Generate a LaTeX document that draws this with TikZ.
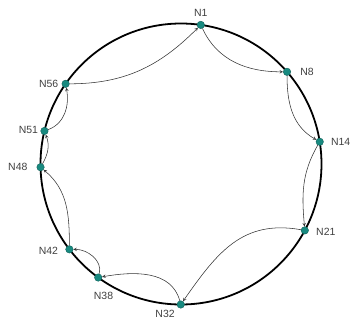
\documentclass[tikz,border=0pt]{standalone}
\usepackage{fontspec}
\setsansfont{Liberation Sans}
\definecolor{ringteal}{RGB}{24,138,128}

\begin{document}
\begin{tikzpicture}[>=stealth,x=1bp,y=1bp,
  peer/.style={circle,fill=ringteal,draw=ringteal!70!black,inner sep=0pt,minimum size=7.5bp},
  peerlabel/.style={font=\sffamily\fontsize{10.5}{12}\selectfont,text=black!75,inner sep=0pt},
  hop/.style={->,black!80,line width=0.55pt}]
  \useasboundingbox (-181,-158) rectangle (171,164);
  % the ring
  \draw[line width=1.8pt] (0,0) circle (140.5);
  % peers on the ring, with their names
  \foreach \ang/\id/\dx/\dy in {81.9/1/0/12, 41/8/20/0, 9.1/14/21/0, -28.2/21/21/-1.4,
      -90.1/32/-15.7/-9, 233.9/38/5.3/-18.5, 217.4/42/-21/-1.4, 181.3/48/-22.7/0,
      166.4/51/-16/0.7, 145.2/56/-17/0}{
    \node[peer] (n\id) at (\ang:140.5) {};
    \node[peerlabel] (l\id) at ([shift={(\dx,\dy)}]n\id) {N\id};
  }
  % successor hops
  \draw[hop] (n1) to[out=-65,in=180] (n8);
  \draw[hop] (n8) to[out=-90,in=150] (n14);
  \draw[hop] (n14) to[out=-120,in=95] (n21);
  \draw[hop] (n21) to[out=170,in=55,looseness=1.1] (n32);
  \draw[hop] (n32) to[out=105,in=10] (n38);
  \draw[hop] (n38) to[out=75,in=0] (n42);
  \draw[hop] (n42) to[out=90,in=-40] (n48);
  \draw[hop] (n48) to[out=60,in=-70] (n51);
  \draw[hop] (n51) to[out=20,in=-80] (n56);
  \draw[hop] (n56) to[out=0,in=-135] (n1);
\end{tikzpicture}
\end{document}
